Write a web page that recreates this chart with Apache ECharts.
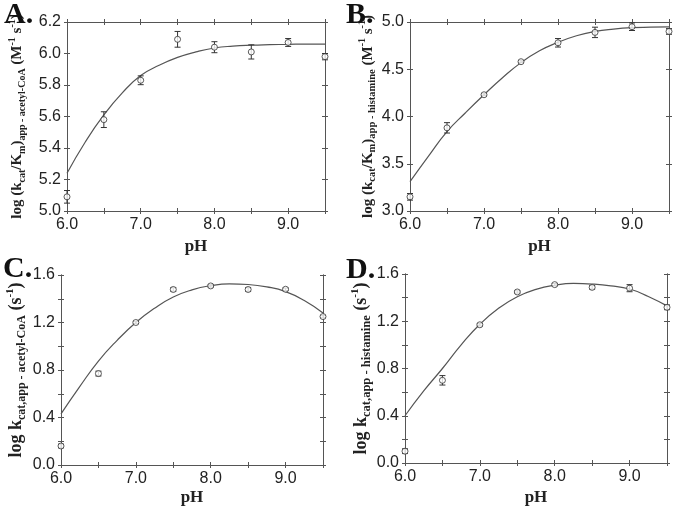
<!DOCTYPE html>
<html>
<head>
<meta charset="utf-8">
<script src="https://cdn.jsdelivr.net/npm/echarts@6/dist/echarts.min.js"></script>
<style>
html,body{margin:0;padding:0;background:#fff;}
#chart{width:674px;height:508px;}
</style>
</head>
<body>
<div id="chart"></div>
<script>
// ---------- data ----------
const pH = [6.0, 6.5, 7.0, 7.5, 8.0, 8.5, 9.0, 9.5];
const curvePH = [6.0, 6.25, 6.5, 6.75, 7.0, 7.25, 7.5, 7.75, 8.0, 8.25, 8.5, 8.75, 9.0, 9.25, 9.5];

// A: log(kcat/Km) app - acetyl-CoA
const aVal = [5.09, 5.58, 5.83, 6.09, 6.04, 6.01, 6.07, 5.98];
const aErr = [0.04, 0.05, 0.028, 0.05, 0.035, 0.045, 0.025, 0.02];
const aFit = [5.24, 5.44, 5.61, 5.75, 5.86, 5.925, 5.975, 6.01, 6.035, 6.047, 6.053, 6.056, 6.058, 6.06, 6.06];

// B: log(kcat/Km) app - histamine
const bVal = [3.15, 3.88, 4.23, 4.58, 4.78, 4.89, 4.95, 4.90];
const bErr = [0.035, 0.055, 0.01, 0.01, 0.045, 0.055, 0.04, 0.03];
const bFit = [3.31, 3.58, 3.84, 4.04, 4.23, 4.41, 4.57, 4.695, 4.785, 4.855, 4.90, 4.925, 4.94, 4.945, 4.948];

// C: log kcat,app - acetyl-CoA
const cVal = [0.16, 0.77, 1.20, 1.478, 1.508, 1.478, 1.48, 1.25];
const cErr = [0.015, 0.02, 0.01, 0.015, 0.01, 0.015, 0.01, 0.01];
const cFit = [0.43, 0.66, 0.875, 1.05, 1.20, 1.32, 1.415, 1.475, 1.51, 1.525, 1.52, 1.50, 1.46, 1.385, 1.28];

// D: log kcat,app - histamine
const dVal = [0.10, 0.70, 1.17, 1.448, 1.51, 1.487, 1.48, 1.318];
const dErr = [0.02, 0.04, 0.01, 0.01, 0.01, 0.015, 0.03, 0.02];
const dFit = [0.40, 0.61, 0.80, 1.00, 1.175, 1.31, 1.408, 1.47, 1.505, 1.52, 1.515, 1.50, 1.473, 1.41, 1.33];

// axis ranges
const xRange = {min: 6.0, max: 9.5, interval: 0.5, labelStep: 1.0};
const yRanges = [
  {min: 5.0, max: 6.2, interval: 0.2, labelStep: 0.2},
  {min: 3.0, max: 5.0, interval: 0.5, labelStep: 0.5},
  {min: 0.0, max: 1.6, interval: 0.2, labelStep: 0.4},
  {min: 0.0, max: 1.6, interval: 0.2, labelStep: 0.4}
];
const panelLetters = ['A.', 'B.', 'C.', 'D.'];
const yNames = [
  '{m|log (k}{s|cat}{m|/K}{s|m}{m|)}{s|app - acetyl-CoA}{m| (M}{p|-1}{m| s}{p|-1}{m|)}',
  '{m|log (k}{s|cat}{m|/K}{s|m}{m|)}{s|app - histamine}{m| (M}{p|-1}{m| s}{p|-1}{m|)}',
  '{m|log k}{s|cat,app - acetyl-CoA}{m| (s}{p|-1}{m|)}',
  '{m|log k}{s|cat,app - histamine}{m| (s}{p|-1}{m|)}'
];
const xName = 'pH';

// ---------- layout ----------
const panels = [
  {rect: {left: 67, top: 22, width: 258, height: 189}, yGap: 40, xGap: 27, letter: {left: 4, top: 0}, font: [15, 10, 10]},
  {rect: {left: 410, top: 22, width: 259, height: 189}, yGap: 30, xGap: 27, letter: {left: 346, top: 0}, font: [15, 10.5, 10]},
  {rect: {left: 61, top: 275, width: 262, height: 190}, yGap: 33, xGap: 24, letter: {left: 3, top: 254}, font: [18, 12, 11]},
  {rect: {left: 405, top: 274, width: 262, height: 189}, yGap: 28, xGap: 26, letter: {left: 346, top: 255}, font: [18, 12.5, 11]}
];
const vals = [aVal, bVal, cVal, dVal];
const errs = [aErr, bErr, cErr, dErr];
const fits = [aFit, bFit, cFit, dFit];

const AX = '#555';
const TXT = '#222';
const serif = 'Liberation Serif';
const sans = 'Liberation Sans';

function makeRich(f) {
  return {
    m: {fontFamily: serif, fontWeight: 'bold', fontSize: f[0], color: TXT, lineHeight: Math.round(f[0] * 1.3)},
    s: {fontFamily: serif, fontWeight: 'bold', fontSize: f[1], color: TXT, verticalAlign: 'bottom', lineHeight: f[1]},
    p: {fontFamily: serif, fontWeight: 'bold', fontSize: f[2], color: TXT, verticalAlign: 'top', lineHeight: f[2]}
  };
}

function isStep(v, step, min) {
  const k = (v - min) / step;
  return Math.abs(k - Math.round(k)) < 1e-6;
}

const grid = [], xAxis = [], yAxis = [], series = [], title = [];

panels.forEach((p, i) => {
  const yr = yRanges[i];
  const gMain = grid.length;
  grid.push(Object.assign({containLabel: false}, p.rect));
  const gIn = grid.length;
  grid.push(Object.assign({containLabel: false}, p.rect));

  const lineStyle = {color: AX, width: 1};
  const baseX = {type: 'value', min: xRange.min, max: xRange.max, interval: xRange.interval,
    splitLine: {show: false}, axisLine: {show: true, lineStyle}};
  const baseY = {type: 'value', min: yr.min, max: yr.max, interval: yr.interval,
    splitLine: {show: false}, axisLine: {show: true, lineStyle}};

  // main grid: outside ticks
  const xi = xAxis.length;
  xAxis.push(Object.assign({}, baseX, {gridIndex: gMain, position: 'bottom',
    axisTick: {show: true, inside: false, length: 3, lineStyle},
    axisLabel: {show: true, margin: 6, color: TXT, fontFamily: sans, fontSize: 16,
      formatter: v => isStep(v, xRange.labelStep, xRange.min) ? v.toFixed(1) : ''},
    name: xName, nameLocation: 'middle', nameGap: p.xGap,
    nameTextStyle: {fontFamily: serif, fontWeight: 'bold', fontSize: 17, color: TXT}}));
  xAxis.push(Object.assign({}, baseX, {gridIndex: gMain, position: 'top',
    axisTick: {show: true, inside: false, length: 3, lineStyle}, axisLabel: {show: false}}));
  xAxis.push(Object.assign({}, baseX, {gridIndex: gIn, position: 'bottom',
    axisTick: {show: true, inside: true, length: 3, lineStyle}, axisLabel: {show: false}}));
  xAxis.push(Object.assign({}, baseX, {gridIndex: gIn, position: 'top',
    axisTick: {show: true, inside: true, length: 3, lineStyle}, axisLabel: {show: false}}));

  const yi = yAxis.length;
  yAxis.push(Object.assign({}, baseY, {gridIndex: gMain, position: 'left',
    axisTick: {show: true, inside: false, length: 3, lineStyle},
    axisLabel: {show: true, margin: 6, color: TXT, fontFamily: sans, fontSize: 16,
      formatter: v => isStep(v, yr.labelStep, yr.min) ? v.toFixed(1) : ''},
    name: yNames[i], nameLocation: 'middle', nameRotate: 90, nameGap: p.yGap,
    nameTextStyle: {rich: makeRich(p.font)}}));
  yAxis.push(Object.assign({}, baseY, {gridIndex: gMain, position: 'right',
    axisTick: {show: true, inside: false, length: 3, lineStyle}, axisLabel: {show: false}}));
  yAxis.push(Object.assign({}, baseY, {gridIndex: gIn, position: 'left',
    axisTick: {show: true, inside: true, length: 3, lineStyle}, axisLabel: {show: false}}));
  yAxis.push(Object.assign({}, baseY, {gridIndex: gIn, position: 'right',
    axisTick: {show: true, inside: true, length: 3, lineStyle}, axisLabel: {show: false}}));

  // fitted curve
  series.push({type: 'line', xAxisIndex: xi, yAxisIndex: yi, smooth: true, showSymbol: false,
    symbol: 'none', silent: true, clip: false,
    lineStyle: {color: '#555', width: 1.2},
    data: curvePH.map((x, k) => [x, fits[i][k]]), z: 2});

  // error bars
  series.push({type: 'custom', xAxisIndex: xi, yAxisIndex: yi, silent: true, clip: false, z: 3,
    data: pH.map((x, k) => [x, vals[i][k], errs[i][k]]),
    renderItem: function (params, api) {
      const x = api.value(0), y = api.value(1), e = api.value(2);
      const top = api.coord([x, y + e]);
      const bot = api.coord([x, y - e]);
      const w = 3;
      const st = {stroke: '#333', lineWidth: 1};
      return {type: 'group', children: [
        {type: 'line', shape: {x1: top[0], y1: top[1], x2: bot[0], y2: bot[1]}, style: st},
        {type: 'line', shape: {x1: top[0] - w, y1: top[1], x2: top[0] + w, y2: top[1]}, style: st},
        {type: 'line', shape: {x1: bot[0] - w, y1: bot[1], x2: bot[0] + w, y2: bot[1]}, style: st}
      ]};
    }});

  // data points
  series.push({type: 'scatter', xAxisIndex: xi, yAxisIndex: yi, silent: true, z: 4,
    symbol: 'circle', symbolSize: 6,
    itemStyle: {color: '#fff', borderColor: '#333', borderWidth: 1},
    data: pH.map((x, k) => [x, vals[i][k]])});

  title.push({text: panelLetters[i], left: p.letter.left, top: p.letter.top, padding: 0,
    textStyle: {fontFamily: serif, fontWeight: 'bold', fontSize: 30, color: '#111'}});
});

const chart = echarts.init(document.getElementById('chart'), null, {renderer: 'canvas'});
chart.setOption({
  backgroundColor: '#fff',
  animation: false,
  title: title,
  grid: grid,
  xAxis: xAxis,
  yAxis: yAxis,
  series: series
});
</script>
</body>
</html>
